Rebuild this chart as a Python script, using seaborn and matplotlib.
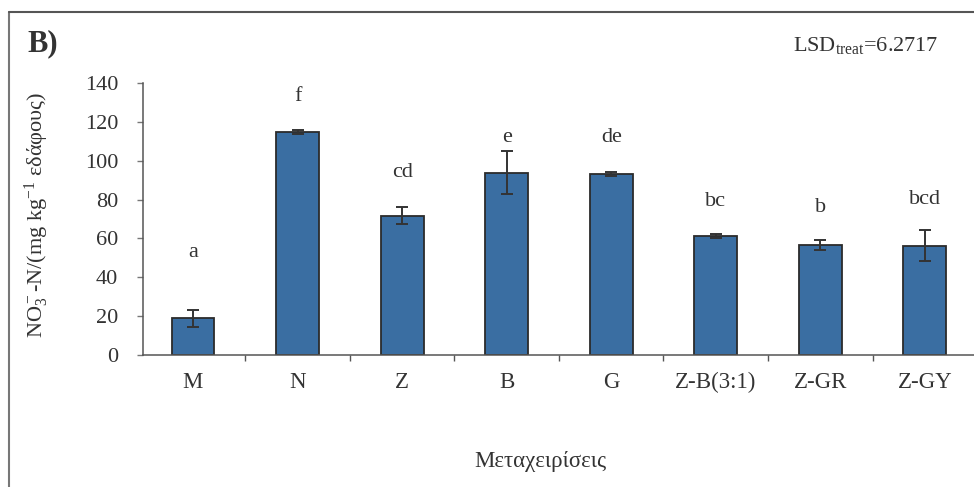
import matplotlib
matplotlib.use("Agg")
import matplotlib.pyplot as plt
from matplotlib.lines import Line2D
from matplotlib.ticker import FixedLocator
import seaborn as sns
import pandas as pd

categories = ["M", "N", "Z", "B", "G", "Z-B(3:1)", "Z-GR", "Z-GY"]
means = [18.9, 114.6, 71.7, 93.8, 93.2, 61.2, 56.6, 56.3]
errors = [4.3, 1.0, 4.3, 11.0, 1.0, 1.0, 2.6, 8.0]
letters = ["a", "f", "cd", "e", "de", "bc", "b", "bcd"]
letter_heights = [53, 133, 94, 112, 112, 79, 76, 80]
yticks = [0, 20, 40, 60, 80, 100, 120, 140]

sns.set_theme(style="white")
plt.rcParams["font.family"] = ["Liberation Serif", "DejaVu Serif"]
plt.rcParams["mathtext.fontset"] = "custom"
plt.rcParams["mathtext.rm"] = "Liberation Serif"
plt.rcParams["mathtext.it"] = "Liberation Serif:italic"

W, H = 974, 487
fig = plt.figure(figsize=(W / 100, H / 100), dpi=100)
ax = fig.add_axes([143 / W, (H - 355) / H, (W - 143) / W, (355 - 83) / H])

df = pd.DataFrame({"cat": categories, "val": means})
bar_color = "#3A6EA2"
sns.barplot(data=df, x="cat", y="val", order=categories, color=bar_color,
            width=0.41, edgecolor="#2b2b2b", linewidth=1.3, errorbar=None,
            saturation=1, ax=ax)
xs = list(range(len(categories)))
ax.errorbar(xs, means, yerr=errors, fmt="none", ecolor="#333333",
            elinewidth=1.4, capsize=4, capthick=1.4, zorder=5)

for x, t, h in zip(xs, letters, letter_heights):
    ax.text(x, h, t, ha="center", va="center", fontsize=16, color="#333333")

ax.set_xlim(-0.478, 7.47)
ax.set_ylim(0, 140)
ax.set_yticks(yticks)
ax.set_yticklabels([str(v) for v in yticks], fontsize=16, color="#333333")
ax.set_xticks(xs)
ax.set_xticklabels(categories, fontsize=16.5, color="#333333")
ax.xaxis.set_minor_locator(FixedLocator([i + 0.5 for i in range(7)]))
ax.tick_params(axis="x", which="major", length=0, pad=12)
ax.tick_params(axis="x", which="minor", length=4, width=1, color="#555555", direction="out", bottom=True)
ax.tick_params(axis="y", which="major", length=4, width=1, color="#777777", direction="out", left=True, pad=14)
for s in ["top", "right"]:
    ax.spines[s].set_visible(False)
for s in ["left", "bottom"]:
    ax.spines[s].set_color("#555555")
    ax.spines[s].set_linewidth(1.1)
ax.set_xlabel("")
ax.set_ylabel("")

fig.text(37 / W, 1 - 215 / H, "NO$_3^-$-N/(mg kg$^{-1}$ εδάφους)", rotation=90,
         ha="center", va="center", fontsize=16, color="#333333")
fig.text(540 / W, 1 - 462 / H, "Μεταχειρίσεις", ha="center", va="center",
         fontsize=16.5, color="#333333")
fig.text(27 / W, 1 - 44 / H, "B)", ha="left", va="center", fontsize=22,
         fontweight="bold", color="#333333")
fig.text(938 / W, 1 - 45 / H, "LSD$_{\\mathrm{treat}}$=6.2717", ha="right", va="center",
         fontsize=16, color="#333333")

fig.add_artist(Line2D([9 / W, 9 / W], [0, 1 - 12 / H], transform=fig.transFigure,
                      color="#777777", linewidth=1.5))
fig.add_artist(Line2D([9 / W, 1], [1 - 12 / H, 1 - 12 / H], transform=fig.transFigure,
                      color="#555555", linewidth=1.5))

fig.savefig("out.png", dpi=100)
